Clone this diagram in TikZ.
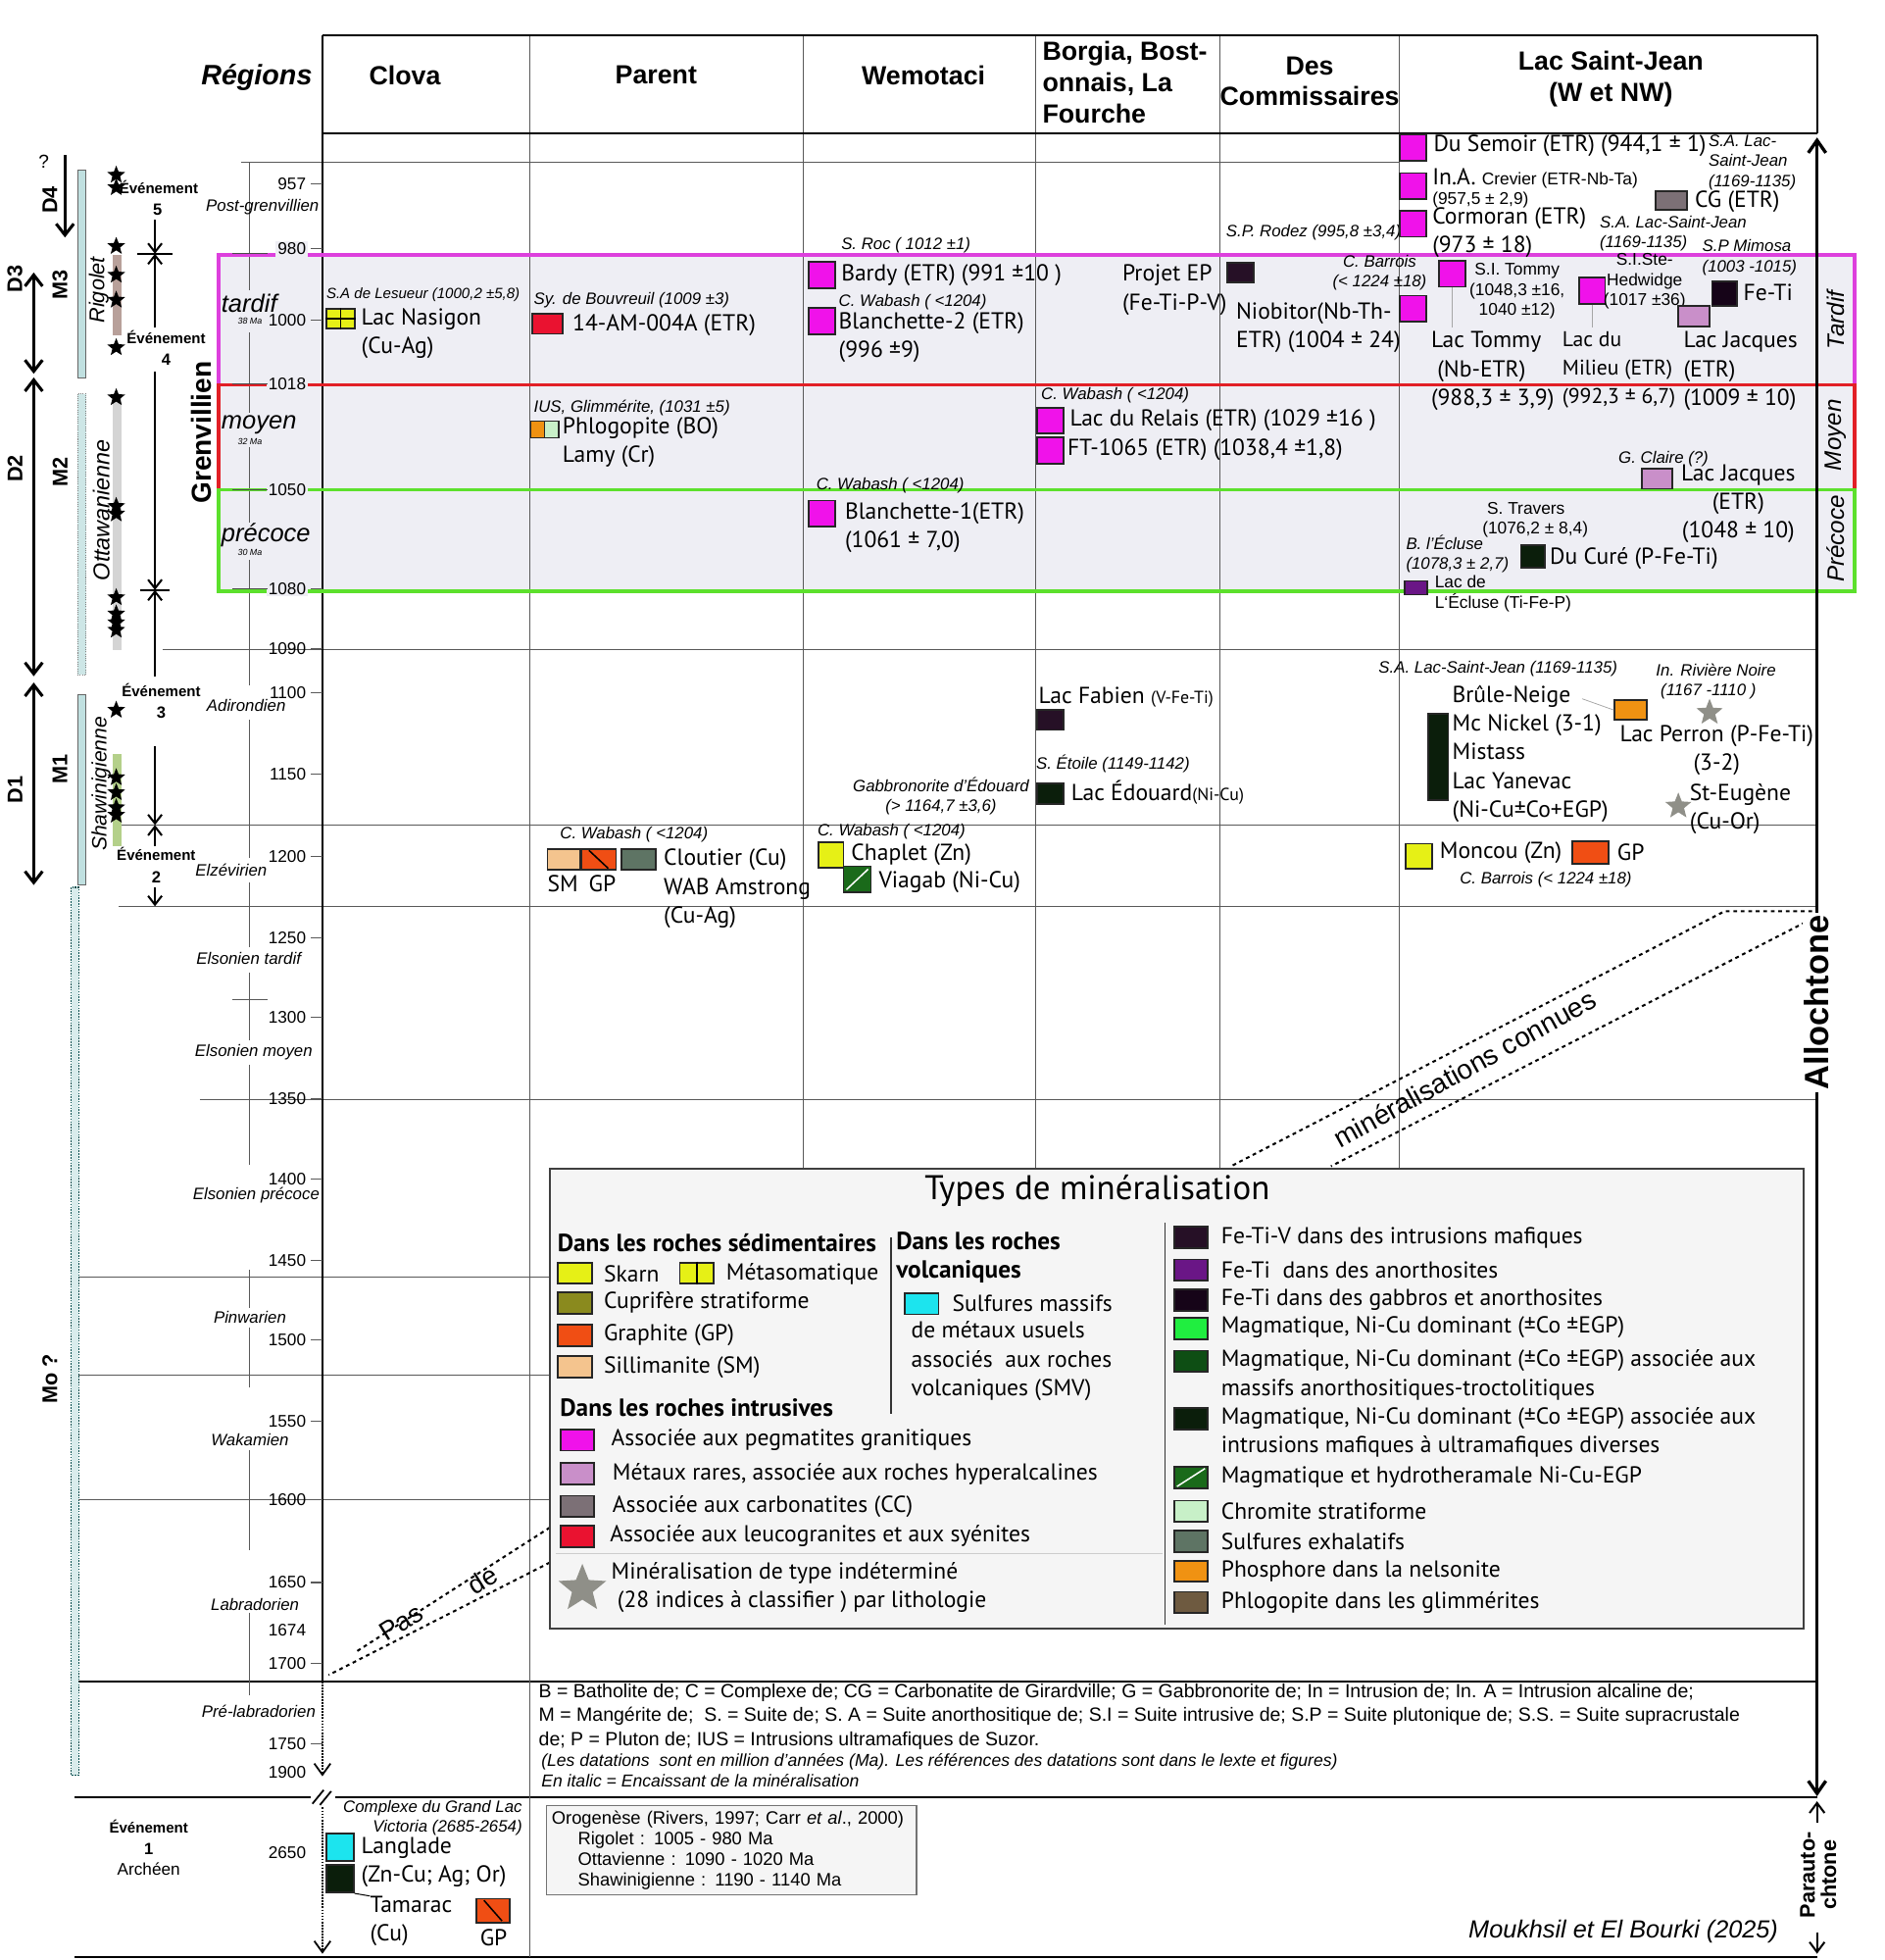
\documentclass[tikz,border=0pt]{standalone}
\usepackage{fontspec}
\setmainfont{Liberation Sans}
\newfontfamily\myr{PT Sans}
\usetikzlibrary{arrows.meta,positioning,shapes.geometric}
\definecolor{lav}{HTML}{EEEEF4}
\definecolor{magbox}{HTML}{DD40DD}
\definecolor{redbox}{HTML}{E21F26}
\definecolor{grnbox}{HTML}{5CE02C}
\definecolor{peg}{HTML}{F012EA}
\definecolor{hyp}{HTML}{C98FC9}
\definecolor{carb}{HTML}{7C7076}
\definecolor{leuco}{HTML}{EA1230}
\definecolor{skarn}{HTML}{E6F016}
\definecolor{cupri}{HTML}{8A8A1E}
\definecolor{graph}{HTML}{F04E14}
\definecolor{silli}{HTML}{F4C48E}
\definecolor{smv}{HTML}{1CE4EE}
\definecolor{fetiv}{HTML}{261026}
\definecolor{fetia}{HTML}{6A1686}
\definecolor{fetig}{HTML}{160418}
\definecolor{nicu}{HTML}{20EE40}
\definecolor{nicua}{HTML}{0E4E14}
\definecolor{nicum}{HTML}{0B1E0B}
\definecolor{hydro}{HTML}{1A6A1A}
\definecolor{chrom}{HTML}{C8F0C8}
\definecolor{exha}{HTML}{5E7464}
\definecolor{phos}{HTML}{F09212}
\definecolor{phlog}{HTML}{6E5A40}
\definecolor{legbg}{HTML}{F5F5F5}
\definecolor{mbar}{HTML}{C0E0E0}
\definecolor{rbar}{HTML}{B8A09A}
\definecolor{obar}{HTML}{D4D4D4}
\definecolor{sbar}{HTML}{B4D08A}
\definecolor{stargray}{HTML}{8F8F88}
\newcommand{\ftlab}{\myr\fontsize{18.5}{23}\selectfont}
\newcommand{\ftsub}{\myr\fontsize{14}{15}\selectfont}
\newcommand{\fthost}{\itshape\fontsize{13.2}{16}\selectfont}
\newcommand{\ftsmall}{\fontsize{13.6}{16}\selectfont}
\newcommand{\ftage}{\fontsize{13.5}{15}\selectfont}
\newcommand{\ftper}{\itshape\fontsize{13.2}{15}\selectfont}
\newcommand{\ftevt}{\bfseries\fontsize{11.8}{13}\selectfont}
\newcommand{\fthead}{\bfseries\fontsize{21}{25}\selectfont}
\newcommand{\ftlegh}{\myr\bfseries\fontsize{19.8}{23}\selectfont}

\begin{document}
\begin{tikzpicture}[x=1pt,y=-1pt,
  every node/.style={inner sep=0pt},
  grid/.style={draw=black!65,line width=0.8pt},
  lab/.style={anchor=west,font=\ftlab,align=left},
  host/.style={anchor=west,font=\fthost,align=left},
  sml/.style={anchor=west,font=\ftsmall,align=left},
  age/.style={anchor=east,font=\ftage},
  per/.style={font=\ftper},
  sq/.style={draw=black!85,line width=1.4pt,minimum width=21pt,minimum height=21pt},
  lsq/.style={draw=black!85,line width=1.4pt,minimum width=27pt,minimum height=17pt},
  evt/.style={font=\ftevt},
  bstar/.style={star,star points=5,star point ratio=2.3,fill=black,minimum size=15pt},
  gstar/.style={star,star points=5,star point ratio=2.3,fill=stargray,minimum size=22pt},
  barb/.style={-{Straight Barb[length=7pt,width=11pt]},line width=1.6pt},
  darr/.style={{Straight Barb[length=9pt,width=14pt]}-{Straight Barb[length=9pt,width=14pt]},line width=2.4pt},
  colhead/.style={font=\fthead,align=center},
  rot/.style={rotate=90,font=\bfseries\fontsize{17}{19}\selectfont},
]
\useasboundingbox (0,0) rectangle (1508,1568);

% Grenvillien band
\fill[lav] (175,204) rectangle (1484,473);

% grid lines
\draw[grid] (193,130) -- (1120,130);
\draw[grid] (130,520) -- (1454,520);
\draw[grid] (95,660) -- (1454,660);
\draw[grid] (95,725) -- (1454,725);
\draw[grid] (160,880) -- (1454,880);
\draw[grid] (60,1022) -- (440,1022);
\draw[grid] (60,1100) -- (440,1100);
\draw[grid] (60,1200) -- (440,1200);
\draw[line width=1.4pt] (60,1345) -- (1454,1345);
\draw[line width=1.6pt] (60,1438) -- (1454,1438);
\draw[line width=1.6pt] (60,1566) -- (1454,1566);
\foreach \x in {643,829,976,1120}
  \draw[grid] (\x,28) -- (\x,935);
\draw[grid] (424,28) -- (424,1566);

% header
\draw[line width=1.6pt] (258,28) -- (1454,28);
\draw[line width=1.6pt] (258,107) -- (1454,107);
\draw[line width=1.6pt] (258,28) -- (258,1345);
\draw[line width=1.6pt] (1454,28) -- (1454,107);
\node (hreg) [anchor=east,font=\bfseries\itshape\fontsize{22.5}{24}\selectfont] at (250,62) {Régions};
\node (hclova) [colhead] at (324,60) {Clova};
\node (hparent) [colhead] at (525,60) {Parent};
\node (hwemo) [colhead] at (739,60) {Wemotaci};
\node (hborgia) [colhead,anchor=west,align=left] at (834,66) {Borgia, Bost-\\onnais, La\\Fourche};
\node (hdes) [colhead] at (1048,65) {Des\\Commissaires};
\node (hlsj) [colhead] at (1289,63) {Lac Saint-Jean\\(W et NW)};

% time axis
\foreach \a/\b in {130/232,266/330,358/418,448/548,576/686,706/758,778/832,852/932,1016/1046,1062/1110,1160/1240,1290/1356}
  \draw[grid] (200,\a) -- (200,\b);
\foreach \y in {203,307,392,471,660,725,800}
  \draw[grid] (186,\y) -- (214,\y);
\foreach \y/\t in {147/957,199/980,256/1000,307/1018,392/1050,471/1080,519/1090,554/1100,619/1150,685/1200,750/1250,814/1300,879/1350,943/1400,1008/1450,1072/1500,1137/1550,1200/1600,1266/1650,1331/1700,1395/1750}
  \draw[grid] (249,\y) -- (258,\y);
\foreach \y/\t in {147/957,256/1000,519/1090,554/1100,619/1150,685/1200,750/1250,814/1300,879/1350,943/1400,1008/1450,1072/1500,1137/1550,1200/1600,1266/1650,1304/1674,1331/1700,1395/1750,1418/1900,1482/2650}
  \node (t\t) [age] at (245,\y) {\t};

% periods
\node (ppost) [per] at (210,166) {Post-grenvillien};
\node (padi) [per] at (197,564) {Adirondien};
\node (pelz) [per] at (185,696) {Elzévirien};
\node (pelt) [per] at (199,767) {Elsonien tardif};
\node (pelm) [per] at (203,842) {Elsonien moyen};
\node (pelp) [per] at (205,956) {Elsonien précoce};
\node (ppin) [per] at (200,1054) {Pinwarien};
\node (pwak) [per] at (200,1152) {Wakamien};
\node (plab) [per] at (204,1284) {Labradorien};
\node (pprel) [per] at (207,1369) {Pré-labradorien};

% Grenvillien frames
\draw[magbox,line width=2.6pt] (175,204) rectangle (1484,308);
\draw[redbox,line width=2.6pt] (175,308) rectangle (1484,392);
\draw[grnbox,line width=2.6pt] (175,392) rectangle (1484,473);
\foreach \y/\t in {199/980,307/1018,392/1050,471/1080}
  \node (t\t) [age,fill=lav,inner sep=1.5pt] at (246.5,\y) {\t};
\draw[black!70,line width=0.8pt] (186,203) -- (214,203) (186,307) -- (214,307) (186,392) -- (214,392) (186,471) -- (214,471);
\node (gtard) [anchor=west,font=\itshape\fontsize{20}{22}\selectfont] at (177,243) {tardif};
\node (gtardma) [font=\itshape\fontsize{7}{8}\selectfont] at (200,257) {38 Ma};
\node (gmoy) [anchor=west,font=\itshape\fontsize{20}{22}\selectfont] at (177,340) {moyen};
\node (gmoyma) [font=\itshape\fontsize{7}{8}\selectfont] at (200,353) {32 Ma};
\node (gprec) [anchor=west,font=\itshape\fontsize{20}{22}\selectfont] at (177,428) {précoce};
\node (gprecma) [font=\itshape\fontsize{7}{8}\selectfont] at (200,442) {30 Ma};
\node (grenv) [rotate=90,font=\bfseries\fontsize{22}{24}\selectfont] at (161,346) {Grenvillien};
\node (rtard) [rotate=90,font=\itshape\fontsize{19}{21}\selectfont] at (1469,256) {Tardif};
\node (rmoy) [rotate=90,font=\itshape\fontsize{19}{21}\selectfont] at (1469,348) {Moyen};
\node (rprec) [rotate=90,font=\itshape\fontsize{19}{21}\selectfont] at (1469,431) {Précoce};

% left columns: D, M, orogenies
\node (qmark) [font=\fontsize{15}{17}\selectfont] at (35,129) {?};
\node (d4) [rot] at (40,160) {D4};
\node (d3) [rot] at (12,223) {D3};
\node (d2) [rot] at (12,375) {D2};
\node (d1) [rot] at (12,632) {D1};
\node (m3) [rot] at (48,228) {M3};
\node (m2) [rot] at (48,378) {M2};
\node (m1) [rot] at (48,615) {M1};
\node (mo) [rot] at (40,1103) {Mo ?};
\draw[-{Straight Barb[length=9pt,width=14pt]},line width=2.4pt] (52,124) -- (52,190);
\draw[darr] (27,218) -- (27,299);
\draw[darr] (27,302) -- (27,541);
\draw[darr] (27,546) -- (27,708);
\draw[draw=black!60,fill=mbar,line width=0.8pt] (62,136) rectangle (69,302);
\draw[draw=black!50,fill=mbar!80,densely dotted,line width=0.8pt] (62,315) rectangle (69,540);
\draw[draw=black!60,fill=mbar,line width=0.8pt] (62,556) rectangle (69,708);
\draw[draw=teal!60!black,fill=mbar!60,densely dotted,line width=1.2pt] (57,710) rectangle (63,1420);
\fill[rbar] (90,204) rectangle (97,268);
\fill[obar] (90,318) rectangle (97,520);
\fill[sbar] (90,603) rectangle (97,677);
\node (orig) [rotate=90,font=\itshape\fontsize{17}{19}\selectfont] at (79,232) {Rigolet};
\node (oott) [rotate=90,font=\itshape\fontsize{18.3}{20}\selectfont] at (81,408) {Ottawanienne};
\node (oshaw) [rotate=90,font=\itshape\fontsize{16.5}{18}\selectfont] at (81,627) {Shawinigienne};
\foreach \y in {140,150,197,220,240,278,318,405,411,478,491,498,504,568,622,634,646,652}
  \node[bstar] at (93,\y) {};

% events
\node (e5) [evt] at (127,150) {Événement};
\node (e5n) [font=\bfseries\fontsize{13}{15}\selectfont] at (126,168) {5};
\node (e4) [evt] at (133,270) {Événement};
\node (e4n) [font=\bfseries\fontsize{13}{15}\selectfont] at (133,288) {4};
\node (e3) [evt] at (129,552) {Événement};
\node (e3n) [font=\bfseries\fontsize{13}{15}\selectfont] at (129,570) {3};
\node (e2) [evt] at (125,683) {Événement};
\node (e2n) [font=\bfseries\fontsize{13}{15}\selectfont] at (125,702) {2};
\node (e1) [evt] at (119,1461) {Événement};
\node (e1n) [font=\bfseries\fontsize{13}{15}\selectfont] at (119,1479) {1};
\node (e1a) [font=\fontsize{13.5}{15}\selectfont] at (119,1495) {Archéen};
\coordinate (k5) at (124,203);
\coordinate (k4) at (124,472);
\coordinate (k3) at (124,660);
\coordinate (k2) at (124,725);
\draw[line width=1.4pt] (110,203) -- (138,203);
\draw[line width=1.4pt] (112,472) -- (136,472);
\draw[barb] (124,176) -- (k5);
\draw[barb] (124,262) -- (k5);
\draw[barb] (124,297) -- (k4);
\draw[barb] (124,541) -- (k4);
\draw[barb] (124,597) -- (k3);
\draw[barb] (124,677) -- (k3);
\draw[barb] (124,710) -- (k2);

% Clova
\node (hles) [host,font=\itshape\fontsize{11.8}{16}\selectfont] at (261,236) {S.A de Lesueur (1000,2 ±5,8)};
\node (qnas) [sq,fill=skarn,minimum width=23pt,minimum height=16pt] at (272.5,255) {};
\draw[line width=1.2pt] (qnas.north) -- (qnas.south) (qnas.west) -- (qnas.east);
\node (lnas) [lab] at (289,267) {Lac Nasigon\\(Cu-Ag)};

% Parent
\node (hbou) [host] at (427,240) {Sy. de Bouvreuil (1009 ±3)};
\node (q14am) [sq,fill=leuco,minimum width=24pt,minimum height=16pt] at (438,259) {};
\node (l14am) [lab] at (458,260) {14-AM-004A (ETR)};
\node (hius) [host] at (427,326) {IUS, Glimmérite, (1031 ±5)};
\node (qphlo) [sq,fill=phos,line width=1pt,minimum width=11pt,minimum height=13pt] at (430.5,343.5) {};
\node (qlamy) [sq,fill=chrom,line width=1pt,minimum width=11pt,minimum height=13pt] at (441.5,343.5) {};
\node (lphlo) [lab] at (450,354) {Phlogopite (BO)\\Lamy (Cr)};

% Wemotaci
\node (hroc) [host] at (673,196) {S. Roc ( 1012 ±1)};
\node (qbardy) [sq,fill=peg] at (657.5,220) {};
\node (lbardy) [lab] at (673,220) {Bardy (ETR) (991 ±10 )};
\node (hwab1) [host] at (671,242) {C. Wabash ( <1204)};
\node (qbl2) [sq,fill=peg] at (657.5,257) {};
\node (lbl2) [lab] at (671,270) {Blanchette-2 (ETR)\\(996 ±9)};
\node (hwab2) [host] at (653,388) {C. Wabash ( <1204)};
\node (qbl1) [sq,fill=peg] at (657.5,411) {};
\node (lbl1) [lab] at (676,422) {Blanchette-1(ETR)\\(1061 ± 7,0)};

% Borgia, Bostonnais, La Fourche
\node (lep) [lab] at (898,232) {Projet EP\\(Fe-Ti-P-V)};
\node (hwab3) [host] at (833,316) {C. Wabash ( <1204)};
\node (qrel) [sq,fill=peg] at (840.5,336.5) {};
\node (qft) [sq,fill=peg] at (840.5,360.5) {};
\node (lrel) [lab] at (856,336) {Lac du Relais (ETR) (1029 ±16 )};
\node (lft) [lab] at (854,360) {FT-1065 (ETR) (1038,4 ±1,8)};

% Des Commissaires
\node (hrod) [host] at (981,186) {S.P. Rodez (995,8 ±3,4)};
\node (qep) [sq,fill=fetiv,minimum height=16pt] at (992.5,218) {};
\node (hbar1) [host,anchor=center,align=center] at (1104,218) {C. Barrois\\(< 1224 ±18)};
\node (qnio) [sq,fill=peg] at (1130.5,247) {};
\node (lnio) [lab] at (989,262) {Niobitor(Nb-Th-\\ETR) (1004 ± 24)};

% Lac Saint-Jean, above the band
\node (qsem) [sq,fill=peg] at (1130.5,118) {};
\node (qcre) [sq,fill=peg] at (1130.5,149) {};
\node (qcor) [sq,fill=peg] at (1130.5,179) {};
\node (lsem) [lab] at (1147,117) {Du Semoir (ETR) (944,1 ± 1)};
\node (hsalsj1) [host] at (1367,130) {S.A. Lac-\\Saint-Jean\\(1169-1135)};
\node (lcre) [lab] at (1146,143) {In.A. {\fontsize{13.6}{14}\selectfont\rmfamily Crevier (ETR-Nb-Ta)}};
\node (lcrea) [sml] at (1146,160) {(957,5 ± 2,9)};
\node (lcor) [lab] at (1146,186) {Cormoran (ETR)\\(973 ± 18)};
\node (qcg) [sq,fill=carb,minimum width=25pt,minimum height=15pt] at (1337.5,160.5) {};
\node (lcg) [lab] at (1356,161) {CG (ETR)};
\node (hsalsj2) [host] at (1280,187) {S.A. Lac-Saint-Jean\\(1169-1135)};
\node (hmim) [host] at (1362,206) {S.P Mimosa\\(1003 -1015)};

% Lac Saint-Jean, in the band
\node (qtom) [sq,fill=peg] at (1162,219) {};
\node (htom) [sml,align=center,anchor=center] at (1214,233) {S.I. Tommy\\(1048,3 ±16,\\1040 ±12)};
\node (qmil) [sq,fill=peg] at (1274,232.5) {};
\node (hhed) [sml,anchor=center,align=center] at (1316,225) {S.I.Ste-\\Hedwidge\\(1017 ±36)};
\node (qjac) [sq,fill=hyp,minimum width=25pt,minimum height=16pt] at (1355.5,253) {};
\node (qfeti) [sq,fill=fetig,minimum width=20pt,minimum height=20pt] at (1380,235) {};
\node (lfeti) [lab] at (1395,234) {Fe-Ti};
\node (ltom) [lab] at (1145,297) {Lac Tommy\\\ (Nb-ETR)\\(988,3 ± 3,9)};
\node (lmil) [lab,font=\myr\fontsize{17}{23}\selectfont] at (1250,296) {Lac du\\Milieu (ETR)\\(992,3 ± 6,7)};
\node (ljac) [lab] at (1347,297) {Lac Jacques\\(ETR)\\(1009 ± 10)};
\draw[black!35,line width=0.6pt] (qtom.south) -- (1162,262);
\draw[black!35,line width=0.6pt] (qmil.south) -- (1274,262);
\node (hcla) [host] at (1295,367) {G. Claire (?)};
\node (qjac2) [sq,fill=hyp,minimum width=24pt,minimum height=16pt] at (1326,383) {};
\node (ljac2) [lab,align=center,anchor=center] at (1391,403) {Lac Jacques\\(ETR)\\(1048 ± 10)};
\node (htra) [sml] at (1186,416) {\ S. Travers\\(1076,2 ± 8,4)};
\node (hecl) [host] at (1125,443) {B. l’Écluse\\(1078,3 ± 2,7)};
\node (qcure) [sq,fill=nicum,minimum width=19pt,minimum height=18pt] at (1226.5,445) {};
\node (lcure) [lab] at (1240,447) {Du Curé (P-Fe-Ti)};
\node (qecl) [sq,fill=fetia,line width=1pt,minimum width=18pt,minimum height=11pt] at (1133,470.5) {};
\node (lecl) [sml] at (1148,475) {Lac de\\L‘Écluse (Ti-Fe-P)};

% between the band and the Elzevirian
\node (lfab) [lab] at (831,558) {Lac Fabien {\ftsub(V-Fe-Ti)}};
\node (qfab) [sq,fill=fetiv,minimum height=16pt] at (840.5,576) {};
\node (hetoi) [host] at (829,611) {S. Étoile (1149-1142)};
\node (qedo) [sq,fill=nicum,minimum height=16pt] at (840.5,635) {};
\node (ledo) [lab] at (857,634) {Lac Édouard{\ftsub(Ni-Cu)}};
\node (hgab) [host,anchor=center,align=center] at (753,637) {Gabbronorite d’Édouard\\(> 1164,7 ±3,6)};
\node (hsalsj3) [host] at (1103,535) {S.A. Lac-Saint-Jean (1169-1135)};
\node (qbru) [sq,fill=nicum,minimum width=16pt,minimum height=69pt] at (1151,605.5) {};
\node (lbru) [lab] at (1162,603) {Brûle-Neige\\Mc Nickel (3-1)\\Mistass\\Lac Yanevac\\(Ni-Cu±Co+EGP)};
\node (qper) [sq,fill=phos,minimum width=26pt,minimum height=16pt] at (1305,568) {};
\draw[black!35,line width=0.6pt] (1266,559) -- (qper.west);
\node (hriv) [host] at (1325,545) {In. Rivière Noire\\\ (1167 -1110 )};
\node (sper) [gstar] at (1368,570) {};
\node (lper) [lab,align=center] at (1296,600) {Lac Perron (P-Fe-Ti)\\(3-2)};
\node (seug) [gstar] at (1343,645) {};
\node (leug) [lab] at (1352,647) {St-Eugène\\(Cu-Or)};

% Elzevirian
\node (hwab4) [host] at (448,668) {C. Wabash ( <1204)};
\node (qsm) [sq,fill=silli,minimum width=26pt,minimum height=17pt] at (451,687.5) {};
\node (qgp) [sq,fill=graph,minimum width=28pt,minimum height=17pt] at (479,687.5) {};
\draw[line width=1.2pt] ([shift={(7,2)}]qgp.north west) -- ([shift={(-7,-2)}]qgp.south east);
\node (qclo) [sq,fill=exha,minimum width=28pt,minimum height=17pt] at (511,687.5) {};
\node (lsm) [lab] at (438,707) {SM};
\node (lgp) [lab] at (471,707) {GP};
\node (lclo) [lab] at (531,711) {Cloutier (Cu)\\WAB Amstrong\\(Cu-Ag)};
\node (hwab5) [host] at (654,665) {C. Wabash ( <1204)};
\node (qcha) [sq,fill=skarn,minimum width=20pt,minimum height=20pt] at (665,684) {};
\node (lcha) [lab] at (681,684) {Chaplet (Zn)};
\node (qvia) [sq,fill=hydro,minimum width=22pt,minimum height=21pt] at (686,703.5) {};
\draw[white,line width=1.2pt] ([shift={(3,-3)}]qvia.south west) -- ([shift={(-3,3)}]qvia.north east);
\node (lvia) [lab] at (703,706) {Viagab (Ni-Cu)};
\node (qmon) [sq,fill=skarn,minimum width=21pt,minimum height=20pt] at (1135.5,685) {};
\node (lmon) [lab] at (1152,682) {Moncou (Zn)};
\node (qgp2) [sq,fill=graph,minimum width=29pt,minimum height=18pt] at (1272.5,682) {};
\node (lgp2) [lab] at (1294,682) {GP};
\node (hbar2) [host] at (1168,704) {C. Barrois (< 1224 ±18)};

% known mineralisations, no mineralisation
\draw[dashed,line width=1.6pt] (1450,729) -- (1380,729) -- (985,933);
\draw[dashed,line width=1.6pt] (1450,735) -- (1065,933);
\node (lconn) [rotate=29,font=\fontsize{22}{24}\selectfont] at (1172,855) {minéralisations connues};
\draw[dashed,line width=1.6pt] (440,1222) -- (284,1322);
\draw[dashed,line width=1.6pt] (440,1250) -- (263,1340);
\node (lpas) [rotate=32,font=\fontsize{21}{23}\selectfont] at (321,1298) {Pas};
\node (lde) [rotate=32,font=\fontsize{21}{23}\selectfont] at (386,1264) {de};

% Allochtone / Parautochtone
\draw[{Straight Barb[length=10pt,width=14pt]}-{Straight Barb[length=10pt,width=14pt]},line width=2.6pt] (1454,110) -- (1454,1437);
\node (lallo) [rotate=90,fill=white,inner sep=2pt,font=\bfseries\fontsize{27}{29}\selectfont] at (1454,802) {Allochtone};
\node (lpara) [rotate=90,align=center,font=\bfseries\fontsize{17}{17}\selectfont] at (1455,1500) {Parauto-\\chtone};
\draw[-{Straight Barb[length=8pt,width=12pt]},line width=1.6pt] (1454,1458) -- (1454,1441);
\draw[-{Straight Barb[length=8pt,width=12pt]},line width=1.6pt] (1454,1546) -- (1454,1563);
\draw[densely dotted,line width=1.4pt,-{Straight Barb[length=9pt,width=13pt]}] (258,1345) -- (258,1421);
\draw[densely dotted,line width=1.4pt,-{Straight Barb[length=9pt,width=13pt]}] (258,1446) -- (258,1563);
\fill[white] (249,1432) rectangle (268,1444);
\draw[line width=1.4pt] (250,1443) -- (259,1432) (256,1444) -- (265,1433);

% legend
\draw[draw=black!75,fill=legbg,line width=1.8pt] (440,935) rectangle (1443,1303);
\node (ltitle) [font=\myr\fontsize{27.4}{29}\selectfont] at (878,953) {Types de minéralisation};
\node (lsed) [anchor=west,font=\ftlegh] at (446,994) {Dans les roches sédimentaires};
\node (ksk) [lsq,fill=skarn] at (460,1018.5) {};
\node (tsk) [lab] at (483,1019) {Skarn};
\node (kme) [lsq,fill=skarn] at (557.5,1018.5) {};
\draw[line width=1.2pt] (kme.north) -- (kme.south);
\node (tme) [lab] at (581,1019) {Métasomatique};
\node (kcu) [lsq,fill=cupri] at (460,1042.5) {};
\node (tcu) [lab] at (483,1042) {Cuprifère stratiforme};
\node (kgp) [lsq,fill=graph] at (460,1068.5) {};
\node (tgp) [lab] at (483,1068) {Graphite (GP)};
\node (ksm) [lsq,fill=silli] at (460,1093.5) {};
\node (tsm) [lab] at (483,1094) {Sillimanite (SM)};
\node (lint) [anchor=west,font=\ftlegh] at (448,1126) {Dans les roches intrusives};
\node (kpeg) [lsq,fill=peg] at (462,1152) {};
\node (tpeg) [lab] at (489,1152) {Associée aux pegmatites granitiques};
\node (khyp) [lsq,fill=hyp] at (462,1179) {};
\node (thyp) [lab] at (490,1179) {Métaux rares, associée aux roches hyperalcalines};
\node (kcar) [lsq,fill=carb] at (462,1205) {};
\node (tcar) [lab] at (490,1205) {Associée aux carbonatites (CC)};
\node (kleu) [lsq,fill=leuco] at (462,1229) {};
\node (tleu) [lab] at (488,1229) {Associée aux leucogranites et aux syénites};
\draw[black!20,line width=0.8pt] (445,1243) -- (930,1243);
\node (kind) [star,star points=5,star point ratio=2.3,fill=stargray,minimum size=40pt] at (466,1271) {};
\node (tind) [lab] at (489,1270) {Minéralisation de type indéterminé\\\ (28 indices à classifier ) par lithologie};
\draw[black!80,line width=1pt] (713,990) -- (713,1131);
\node (lvol) [anchor=west,align=left,font=\ftlegh] at (717,1006) {Dans les roches\\volcaniques};
\node (ksmv) [lsq,fill=smv] at (737.5,1043) {};
\node (tsmv) [lab] at (762,1043) {Sulfures massifs};
\node (tsmv2) [lab] at (729,1089) {de métaux usuels\\associés\ \ aux roches\\volcaniques (SMV)};
\draw[black!80,line width=1pt] (932,978) -- (932,1300);
\node (kfv) [lsq,fill=fetiv] at (953,990) {};
\node (tfv) [lab] at (977,990) {Fe-Ti-V dans des intrusions mafiques};
\node (kfa) [lsq,fill=fetia] at (953,1016) {};
\node (tfa) [lab] at (977,1016) {Fe-Ti\ \ dans des anorthosites};
\node (kfg) [lsq,fill=fetig] at (953,1040) {};
\node (tfg) [lab] at (977,1040) {Fe-Ti dans des gabbros et anorthosites};
\node (knc) [lsq,fill=nicu] at (953,1063) {};
\node (tnc) [lab] at (977,1062) {Magmatique, Ni-Cu dominant (±Co ±EGP)};
\node (kna) [lsq,fill=nicua] at (953,1089) {};
\node (tna) [lab] at (977,1100) {Magmatique, Ni-Cu dominant (±Co ±EGP) associée aux\\massifs anorthositiques-troctolitiques};
\node (knm) [lsq,fill=nicum] at (953,1135) {};
\node (tnm) [lab] at (977,1146) {Magmatique, Ni-Cu dominant (±Co ±EGP) associée aux\\intrusions mafiques à ultramafiques diverses};
\node (khy) [lsq,fill=hydro] at (953,1182) {};
\draw[white,line width=1.2pt] ([shift={(3,-2)}]khy.south west) -- ([shift={(-3,2)}]khy.north east);
\node (thy) [lab] at (977,1182) {Magmatique et hydrotheramale Ni-Cu-EGP};
\node (kch) [lsq,fill=chrom] at (953,1209) {};
\node (tch) [lab] at (977,1209) {Chromite stratiforme};
\node (kex) [lsq,fill=exha] at (953,1233) {};
\node (tex) [lab] at (977,1233) {Sulfures exhalatifs};
\node (kph) [lsq,fill=phos] at (953,1257) {};
\node (tph) [lab] at (977,1257) {Phosphore dans la nelsonite};
\node (kgl) [lsq,fill=phlog] at (953,1282) {};
\node (tgl) [lab] at (977,1282) {Phlogopite dans les glimmérites};

% abbreviations
\node (abr) [anchor=north west,align=left,font=\fontsize{15.3}{19}\selectfont] at (431,1347) {B = Batholite de; C = Complexe de; CG = Carbonatite de Girardville; G = Gabbronorite de; In = Intrusion de; In. A = Intrusion alcaline de;\\M = Mangérite de;\ \ S. = Suite de; S. A = Suite anorthositique de; S.I = Suite intrusive de; S.P = Suite plutonique de; S.S. = Suite supracrustale\\de; P = Pluton de; IUS = Intrusions ultramafiques de Suzor.};
\node (abri) [anchor=north west,align=left,font=\itshape\fontsize{13.8}{16}\selectfont] at (433,1403) {(Les datations\ \ sont en million d’années (Ma). Les références des datations sont dans le lexte et figures)\\En italic = Encaissant de la minéralisation};

% Archean
\node (hgla) [host,align=right,anchor=north east] at (418,1440) {Complexe du Grand Lac\\Victoria (2685-2654)};
\node (qlan) [sq,fill=smv,minimum width=22pt,minimum height=22pt] at (272,1478) {};
\node (qtam) [sq,fill=nicum,minimum width=22pt,minimum height=22pt] at (272,1503) {};
\node (llan) [lab] at (289,1490) {Langlade\\(Zn-Cu; Ag; Or)};
\node (ltam) [lab] at (296,1537) {Tamarac\\(Cu)};
\draw[line width=0.8pt] (qtam.south east) -- (ltam.north west);
\node (qgp3) [sq,fill=graph,minimum width=27pt,minimum height=19pt] at (394.5,1528.5) {};
\draw[line width=1.2pt] ([shift={(7,2)}]qgp3.north west) -- ([shift={(-7,-2)}]qgp3.south east);
\node (lgp3) [lab] at (384,1550) {GP};
\node (orog) [draw=black!55,fill=legbg,line width=1pt,anchor=north west,align=left,inner sep=4pt,text width=288pt,font=\fontsize{14.4}{16.5}\selectfont] at (437,1444) {Orogenèse (Rivers, 1997; Carr \textit{et al}., 2000)\\\hspace*{21pt}Rigolet : 1005 - 980 Ma\\\hspace*{21pt}Ottavienne : 1090 - 1020 Ma\\\hspace*{21pt}Shawinigienne : 1190 - 1140 Ma};
\node (auth) [anchor=east,font=\itshape\fontsize{19.8}{21}\selectfont] at (1423,1545) {Moukhsil et El Bourki (2025)};
\end{tikzpicture}
\end{document}
